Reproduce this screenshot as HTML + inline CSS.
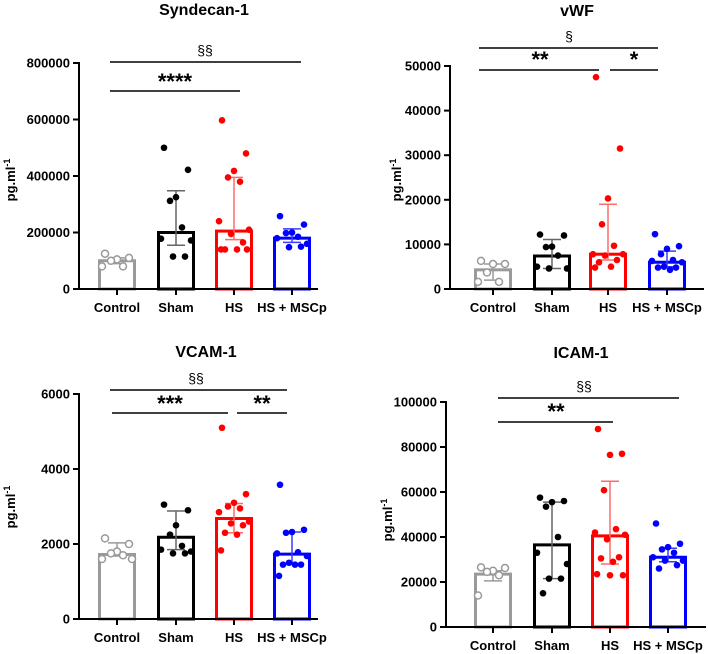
<!DOCTYPE html>
<html><head><meta charset="utf-8"><style>
html,body{margin:0;padding:0;background:#fff}
svg{display:block;font-family:"Liberation Sans",Arial,sans-serif;font-weight:bold}
</style></head><body>
<svg id="c" width="708" height="654" viewBox="0 0 708 654"></svg>
<script>
const categories=["Control","Sham","HS","HS + MSCp"];
const colors=["#9a9a9a","#000","#ff0000","#0000ff"];
const errColors=["#9a9a9a","#666","#ff6b6b","#3b3bff"];
// Syndecan-1
const synBars=[100000,200000,205000,180000];
const synErrLo=[90000,155000,175000,165000];
const synErrHi=[110000,348000,395000,213000];
const synPts=[[125000,110000,105000,100000,80000,80000],[500000,422000,325000,312000,218000,178000,172000,115000,115000],[597000,480000,418000,395000,380000,240000,210000,195000,165000,140000,140000,140000,140000],[258000,228000,200000,198000,185000,180000,160000,148000,150000]];
const synTicks=[0,200000,400000,600000,800000];
// vWF
const vwfBars=[4300,7400,7800,6000];
const vwfErrLo=[2000,4600,6500,5000];
const vwfErrHi=[5600,11100,19000,8500];
const vwfPts=[[6300,5600,5600,3700,1600,1600],[12200,12000,9500,9400,7500,5000,4600,4600],[47500,31500,20300,14500,9700,7800,7800,7500,6500,6000,5000,4800],[12300,9600,9000,7800,6500,6300,6000,5000,4800,4800,4300]];
const vwfTicks=[0,10000,20000,30000,40000,50000];
// VCAM-1
const vcamBars=[1720,2180,2680,1730];
const vcamErrLo=[1680,1850,2300,1470];
const vcamErrHi=[2030,2880,3080,2320];
const vcamPts=[[2150,2000,1800,1750,1700,1600,1600],[3050,2900,2500,2250,1950,1850,1800,1750,1750],[5100,3330,3100,3000,2950,2850,2600,2550,2500,2300,2250,1830],[3580,2380,2320,2300,1780,1750,1680,1500,1450,1450,1450,1150]];
const vcamTicks=[0,2000,4000,6000];
// ICAM-1
const icamBars=[23500,36500,40500,31000];
const icamErrLo=[20500,21500,28000,29000];
const icamErrHi=[25000,55500,64800,35000];
const icamPts=[[26500,26200,25000,24500,23000,14000],[57500,56000,55500,53500,40000,33000,28000,21500,21500,15000],[88000,77000,76500,60800,43500,42000,41000,39000,31000,30500,29000,23500,23000,23000],[46000,37000,35500,34500,33000,31000,29500,29500,27500,26000]];
const icamTicks=[0,20000,40000,60000,80000,100000];

const NS="http://www.w3.org/2000/svg";
const svg=document.getElementById("c");
function mk(tag,attrs,parent,text){const e=document.createElementNS(NS,tag);for(const k in attrs)e.setAttribute(k,attrs[k]);if(text!==undefined)e.textContent=text;(parent||svg).appendChild(e);return e;}
const jit=[-12,12,0,-6,6,-15,15,-3,9,-9,3,-13,13,0];

function panel(o){
  const g=mk("g",{});
  
  
  const ys=v=>o.y0-(v/o.max)*(o.y0-o.yTop);
  const t=mk("text",{x:o.titleX,y:o.titleY,"text-anchor":"middle","font-size":"16"},g,o.title);
  
  
  const yl=mk("text",{transform:`translate(${o.ylX},${o.ylY}) rotate(-90)`,"text-anchor":"middle","font-size":"13"},g);
  
  
  yl.appendChild(document.createTextNode("pg.ml"));
  const sup=mk("tspan",{dy:"-5","font-size":"9"},yl,"-1");
  // bars
  o.bars.forEach((v,i)=>{
    const cx=o.cx[i],w=35;
    const r=mk("rect",{x:cx-w/2,y:ys(v),width:w,height:o.y0-ys(v),fill:"#fff",stroke:colors[i],"stroke-width":3},g);
    
    
    const eg=mk("g",{stroke:errColors[i],"stroke-width":1.5},g);
    
    
    mk("line",{x1:cx,x2:cx,y1:ys(o.lo[i]),y2:ys(o.hi[i])},eg);
    mk("line",{x1:cx-9,x2:cx+9,y1:ys(o.lo[i]),y2:ys(o.lo[i])},eg);
    mk("line",{x1:cx-9,x2:cx+9,y1:ys(o.hi[i]),y2:ys(o.hi[i])},eg);
    o.pts[i].forEach((p,j)=>{
      const c=mk("circle",{cx:cx+jit[j%jit.length],cy:ys(p),r:i==0?3.5:3.3,fill:i==0?"#fff":colors[i],stroke:colors[i],"stroke-width":i==0?1.5:0},g);
      
      
    });
  });
  // axes
  const ax=mk("g",{stroke:"#000","stroke-width":2},g);
  
  
  mk("line",{x1:o.ax,x2:o.ax,y1:o.yTop-1,y2:o.y0+1},ax);
  mk("line",{x1:o.ax,x2:o.axEnd,y1:o.y0,y2:o.y0},ax);
  o.ticks.forEach(tv=>{
    mk("line",{x1:o.ax-6,x2:o.ax,y1:ys(tv),y2:ys(tv)},ax);
    const tl=mk("text",{x:o.ax-9,y:ys(tv)+4.5,"text-anchor":"end","font-size":"13"},g,String(tv));
    
    
  });
  o.cx.forEach((cx,i)=>{
    mk("line",{x1:cx,x2:cx,y1:o.y0,y2:o.y0+6},ax);
    const xl=mk("text",{x:cx,y:o.xlY,"text-anchor":"middle","font-size":"13"},g,categories[i]);
    
    
  });
  o.sig.forEach(s=>{
    const l=mk("line",{x1:s[0],x2:s[1],y1:s[2],y2:s[2],stroke:"#000","stroke-width":1.6},g);
    
    
    const st=s[3].startsWith("*");
    const tx=mk("text",{x:s[4],y:st?s[5]+9:s[5]+5,"text-anchor":"middle","font-size":st?"22":"14","font-weight":st?"bold":"normal"},g,s[3]);
    
    
  });
}
panel({name:"syndecan-1",title:"Syndecan-1",titleX:204,titleY:15,ylX:15,ylY:180,bars:synBars,lo:synErrLo,hi:synErrHi,pts:synPts,ticks:synTicks,max:800000,y0:289,yTop:63,ax:79,axEnd:318,cx:[117,176,234,292],xlY:312,
 sig:[[110,301,62,"§§",205,50],[110,240,91,"****",175,80]]});
panel({name:"vwf",title:"vWF",titleX:577,titleY:16,ylX:401,ylY:180,bars:vwfBars,lo:vwfErrLo,hi:vwfErrHi,pts:vwfPts,ticks:vwfTicks,max:50000,y0:289,yTop:66,ax:450,axEnd:704,cx:[493,552,608,667],xlY:312,
 sig:[[479,658,48,"§",569,36],[479,599,70,"**",540,58],[610,658,70,"*",634,58]]});
panel({name:"vcam-1",title:"VCAM-1",titleX:206,titleY:357,ylX:15,ylY:507,bars:vcamBars,lo:vcamErrLo,hi:vcamErrHi,pts:vcamPts,ticks:vcamTicks,max:6000,y0:619,yTop:394,ax:79,axEnd:318,cx:[117,176,234,292],xlY:642,
 sig:[[110,287,390,"§§",196,378],[112,228,413,"***",170,402],[237,287,413,"**",262,402]]});
panel({name:"icam-1",title:"ICAM-1",titleX:581,titleY:358,ylX:392,ylY:520,bars:icamBars,lo:icamErrLo,hi:icamErrHi,pts:icamPts,ticks:icamTicks,max:100000,y0:627,yTop:402,ax:446,axEnd:706,cx:[493,552,610,668],xlY:650,
 sig:[[498,679,398,"§§",584,386],[498,613,422,"**",556,410]]});
</script>
</body></html>
